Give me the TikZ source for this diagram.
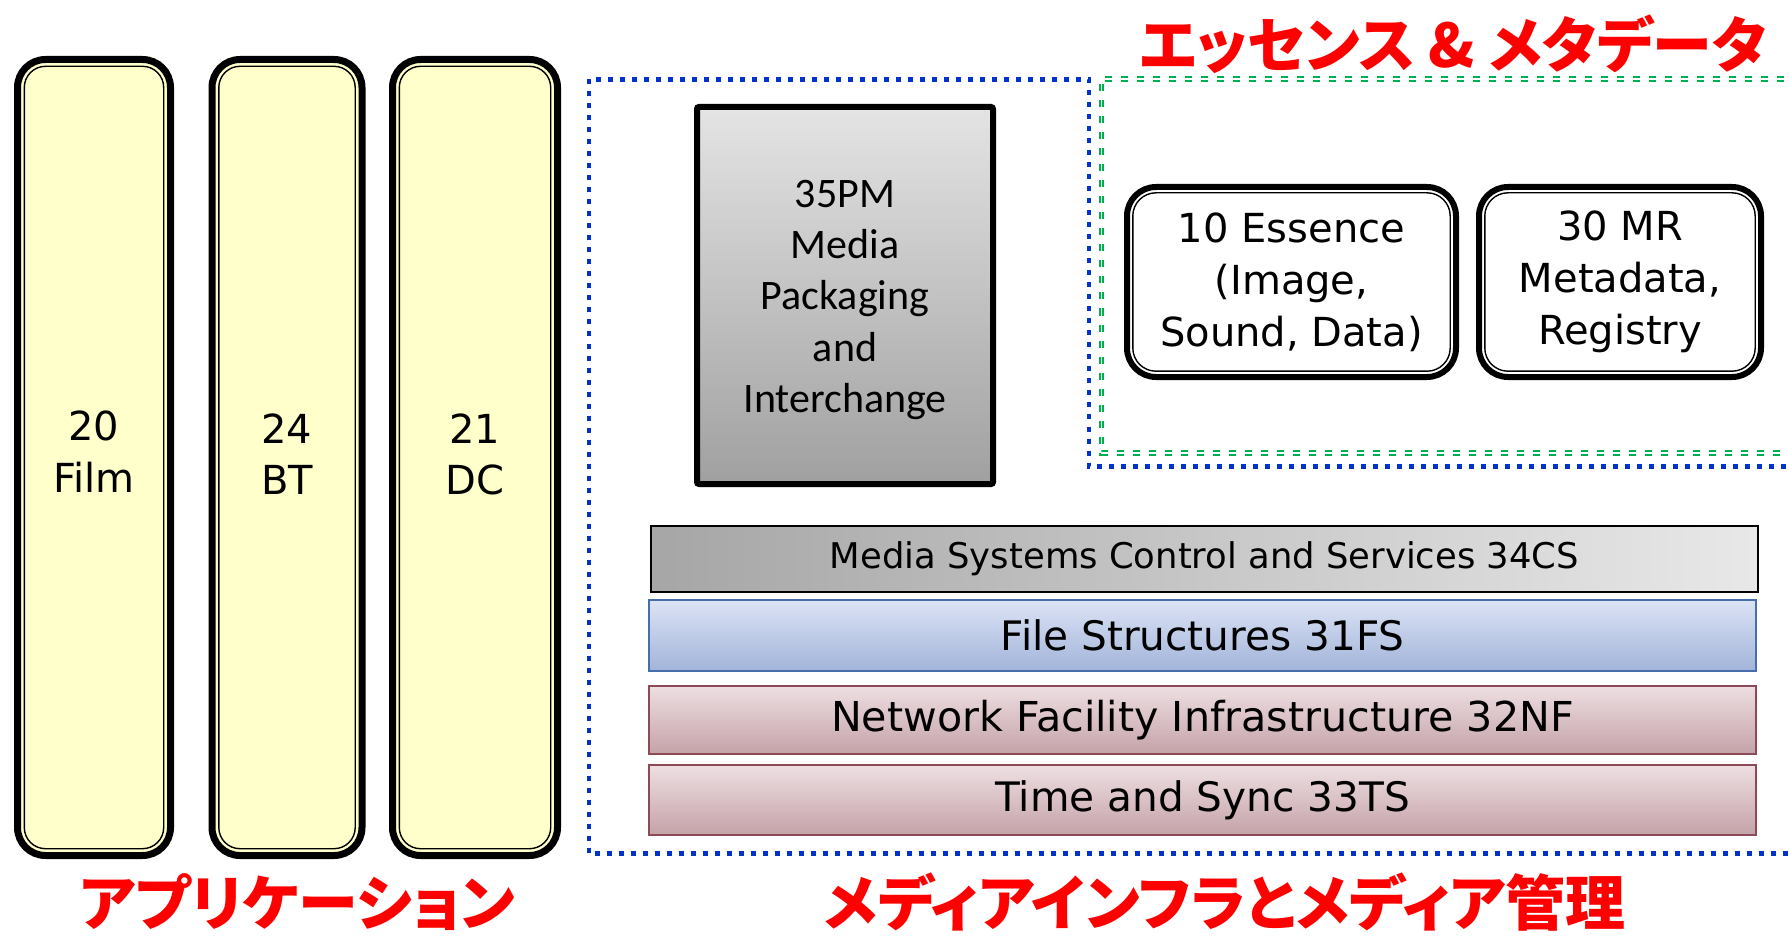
\documentclass[tikz,border=0pt]{standalone}
\usepackage{fontspec}
\setmainfont{DejaVu Sans}
\newfontfamily\calib{Carlito}
\newfontfamily\jpfont[RawFeature=+palt]{Noto Sans CJK JP}

\definecolor{colYellow}{RGB}{255,255,204}
\definecolor{pmTop}{RGB}{228,228,228}
\definecolor{pmBottom}{RGB}{160,160,160}
\definecolor{csLeft}{RGB}{166,166,166}
\definecolor{csRight}{RGB}{232,232,232}
\definecolor{fsTop}{RGB}{220,227,245}
\definecolor{fsBottom}{RGB}{162,180,218}
\definecolor{fsLine}{RGB}{70,110,170}
\definecolor{nfTop}{RGB}{238,223,226}
\definecolor{nfBottom}{RGB}{196,162,168}
\definecolor{nfLine}{RGB}{140,74,87}
\definecolor{regionBlue}{RGB}{0,51,204}
\definecolor{regionGreen}{RGB}{0,176,80}
\definecolor{titleRed}{RGB}{255,0,0}

% invisible depth, lifts a centred label a little
\newcommand\liftby[1]{\rule[-#1]{0pt}{0pt}}
% invisible height, lowers a centred label a little
\newcommand\dropby[1]{\rule{0pt}{#1}}

\begin{document}
\begin{tikzpicture}[x=0.5pt,y=-0.5pt,
  every node/.style={outer sep=0pt},
  appcol/.style={draw=black, line width=3.5pt, fill=colYellow,
    rounded corners=14pt, align=center,
    font=\fontsize{20}{25.7}\selectfont},
  wgbox/.style={draw=black, line width=3pt, fill=white,
    rounded corners=14.5pt, align=center,
    font=\fontsize{20}{26}\selectfont},
  pmbox/.style={draw=black, line width=3pt, rounded corners=1pt,
    top color=pmTop, bottom color=pmBottom, align=center,
    font=\calib\fontsize{21}{25.6}\selectfont},
  layerbar/.style={line width=1pt, minimum width=553.5pt,
    font=\fontsize{20.3}{24}\selectfont},
  innerline/.style={draw=black, line width=0.7pt},
  bluedot/.style={draw=regionBlue, line width=2.4pt, dash pattern=on 2.5pt off 3.5pt},
  greendash/.style={draw=regionGreen, line width=1pt, double=white,
    double distance=0.6pt, dash pattern=on 3.5pt off 4.5pt},
  jptitle/.style={text=titleRed, inner sep=0pt, anchor=base,
    font=\jpfont\bfseries\fontsize{30}{36}\selectfont}
]
\useasboundingbox (0,0) rectangle (1789,936);
\clip (0,0) rectangle (1789,936);

% application columns
\node[appcol, minimum width=76.5pt, minimum height=398pt] (film) at (94,457.5) {20\\Film\liftby{5.8pt}};
\node[appcol, minimum width=75pt, minimum height=398pt] (bt) at (287,457.5) {24\\BT\liftby{3.4pt}};
\node[appcol, minimum width=82.5pt, minimum height=398pt] (dc) at (475,457.5) {21\\DC\liftby{3.4pt}};
\foreach \n in {film,bt,dc}{
  \draw[innerline, rounded corners=10.6pt]
    ([shift={(3.4pt,3.4pt)}]\n.south west) rectangle ([shift={(-3.4pt,-3.4pt)}]\n.north east);
}

% region outlines
\draw[bluedot] (1800,853.5) -- (589,853.5) -- (589,79.5) -- (1089,79.5) -- (1089,466.5) -- (1800,466.5);
\draw[greendash] (1800,79) -- (1101.5,79) -- (1101.5,453) -- (1800,453);

% packaging
\node[pmbox, minimum width=148pt, minimum height=188.5pt] (pm) at (845,295.5)
  {\dropby{18pt}35PM\\Media\\Packaging\\and\\Interchange};

% essence and metadata
\node[wgbox, minimum width=164.5pt, minimum height=95pt] (ess) at (1291.5,282)
  {10 Essence\\(Image,\\Sound, Data)};
\node[wgbox, minimum width=141pt, minimum height=95pt] (mr) at (1620,282)
  {30 MR\\Metadata,\\Registry};
\foreach \n in {ess,mr}{
  \draw[innerline, rounded corners=11.6pt]
    ([shift={(2.9pt,2.9pt)}]\n.south west) rectangle ([shift={(-2.9pt,-2.9pt)}]\n.north east);
}

% infrastructure layers
\node[layerbar, draw=black, left color=csLeft, right color=csRight,
  minimum height=33pt, font=\fontsize{17.7}{22}\selectfont] (cs) at (1204.5,558.8)
  {Media Systems Control and Services 34CS};
\node[layerbar, draw=fsLine, top color=fsTop, bottom color=fsBottom,
  minimum height=35.5pt] (fs) at (1202.5,635.5) {File Structures 31FS};
\node[layerbar, draw=nfLine, top color=nfTop, bottom color=nfBottom,
  minimum height=34.25pt, font=\fontsize{20.6}{24}\selectfont] (nf) at (1202.5,719.75)
  {Network Facility Infrastructure 32NF};
\node[layerbar, draw=nfLine, top color=nfTop, bottom color=nfBottom,
  minimum height=35pt] (ts) at (1202.5,800) {Time and Sync 33TS};

% titles
\node[jptitle] (essTitle) at (1453,68) {エッセンス \& メタデータ};
\node[jptitle] (appTitle) at (297.5,925) {アプリケーション};
\node[jptitle] (infraTitle) at (1225,925) {メディアインフラとメディア管理};
\end{tikzpicture}
\end{document}
